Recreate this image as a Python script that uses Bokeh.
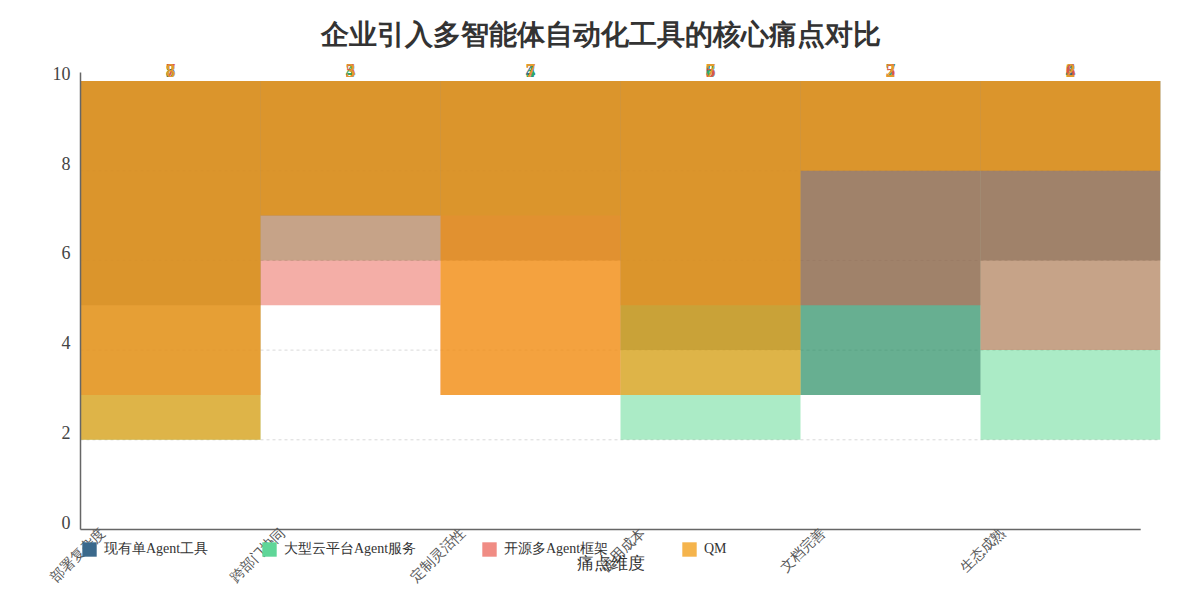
import math
from bokeh.plotting import figure
from bokeh.models import (ColumnDataSource, Range1d, FixedTicker, LabelSet, Label,
                          Legend, LegendItem)
from bokeh.core.properties import value
from bokeh.embed import file_html
from bokeh.resources import INLINE

# ---------------- data ----------------
chart_title = "企业引入多智能体自动化工具的核心痛点对比"
x_title = "痛点维度"
categories = ["部署复杂度", "跨部门协同", "定制灵活性", "使用成本", "文档完善", "生态成熟"]
series_names = ["现有单Agent工具", "大型云平台Agent服务", "开源多Agent框架", "QM"]
single_agent = [5, 3, 4, 6, 7, 4]
cloud_agent = [8, 4, 3, 8, 7, 8]
open_source = [7, 5, 7, 5, 5, 6]
qm = [8, 3, 7, 7, 2, 2]
y_ticks = [0, 2, 4, 6, 8, 10]
score_max = 10

series_values = [single_agent, cloud_agent, open_source, qm]

# ---------------- style ----------------
FONT = "Liberation Serif"
bar_colors = ["#1E3750", "#2ECC71", "#E74C3C", "#F39C12"]
bar_alphas = [0.5, 0.4, 0.45, 0.7]
swatch_colors = ["#3B698C", "#5FD698", "#F08C84", "#F5B44C"]
label_colors = ["#3B698C", "#2EAD62", "#D9584A", "#E39A2E"]
AXIS_END_X = 5.89
AXIS_END_Y = 10.2
n_cat = len(categories)

p = figure(width=1184, height=584, output_backend="svg", toolbar_location=None,
           x_range=Range1d(-40 / 180, n_cat), y_range=Range1d(-1.226, 11.795),
           min_border_left=40, min_border_right=24, min_border_top=0, min_border_bottom=0)
p.outline_line_color = None
p.background_fill_color = "white"
p.xaxis.visible = False
p.xgrid.grid_line_color = None
p.ygrid.grid_line_color = None

centers = [i + 0.5 for i in range(n_cat)]
ticks_pos = [i for i in range(n_cat)]

# horizontal dashed grid (from the y ticks), under the bars
grid_y = y_ticks[1:-1]
p.segment(x0=[0] * len(grid_y), x1=[n_cat] * len(grid_y), y0=grid_y, y1=grid_y,
          line_color="#d9d9d9", line_width=1, line_dash="3 3")

for vals, col, a in zip(series_values, bar_colors, bar_alphas):
    src = ColumnDataSource(dict(x=centers, bottom=[score_max - v for v in vals],
                                top=[score_max] * len(vals)))
    p.vbar(x="x", bottom="bottom", top="top", width=1.0, source=src,
           fill_color=col, fill_alpha=a, line_color=None)

for vals, col in zip(series_values, label_colors):
    src = ColumnDataSource(dict(x=centers, y=[score_max] * len(vals), t=[str(v) for v in vals]))
    p.add_layout(LabelSet(x="x", y="y", text="t", source=src, y_offset=4,
                          text_align="center", text_baseline="bottom",
                          text_font=value(FONT), text_font_size="19px",
                          text_font_style="bold", text_color=col))

# title
p.add_layout(Label(x=3.0, y=score_max, x_offset=-20, y_offset=47, text=chart_title,
                   text_align="center", text_baseline="middle", text_font=FONT,
                   text_font_size="28px", text_font_style="bold", text_color="#333333"))

# y axis (fixed at x = 0); its tick labels are drawn as a label set
p.yaxis.fixed_location = 0
p.yaxis.ticker = FixedTicker(ticks=y_ticks)
p.yaxis.bounds = (0, AXIS_END_Y)
p.yaxis.major_label_text_font = FONT
p.yaxis.major_label_text_font_size = "18px"
p.yaxis.major_label_text_color = None
p.yaxis.major_tick_line_color = None
p.yaxis.major_tick_out = 0
p.yaxis.major_tick_in = 0
p.yaxis.minor_tick_line_color = None
p.yaxis.axis_line_color = "#666666"
p.yaxis.axis_line_width = 1.5

ytick_src = ColumnDataSource(dict(x=[0] * len(y_ticks), y=y_ticks, t=[str(t) for t in y_ticks]))
p.add_layout(LabelSet(x="x", y="y", text="t", source=ytick_src, x_offset=-10, y_offset=1,
                      text_align="right", text_baseline="alphabetic",
                      text_font=value(FONT), text_font_size="18px", text_color="#444444"))

# x axis line
p.segment(x0=[0], x1=[AXIS_END_X], y0=[0], y1=[0], line_color="#666666", line_width=1.5)

# category labels
cat_src = ColumnDataSource(dict(x=ticks_pos, y=[0] * n_cat, t=categories))
p.add_layout(LabelSet(x="x", y="y", text="t", source=cat_src, x_offset=22, y_offset=-1,
                      angle=math.pi / 4, text_align="right", text_baseline="middle",
                      text_font=value(FONT), text_font_size="14px", text_color="#555555"))

p.add_layout(Label(x=AXIS_END_X / 2, y=0, y_offset=-34, text=x_title, text_align="center",
                   text_baseline="middle", text_font=FONT, text_font_size="17px",
                   text_color="#333333"))

# legend
legend_x = [40, 220, 440, 640]
nan = float("nan")
for name, col, lx in zip(series_names, swatch_colors, legend_x):
    r = p.vbar(x=[nan], top=[nan], width=1, fill_color=col, line_color=None)
    lg = Legend(items=[LegendItem(label=name, renderers=[r])], location=(lx, 26),
                orientation="horizontal", padding=0, margin=0, spacing=0,
                glyph_width=18, glyph_height=18, label_standoff=6,
                label_text_font=FONT, label_text_font_size="14px",
                label_text_color="#333333", background_fill_alpha=0,
                border_line_color=None)
    p.add_layout(lg, "center")

open("out.html", "w").write(file_html(p, INLINE))
